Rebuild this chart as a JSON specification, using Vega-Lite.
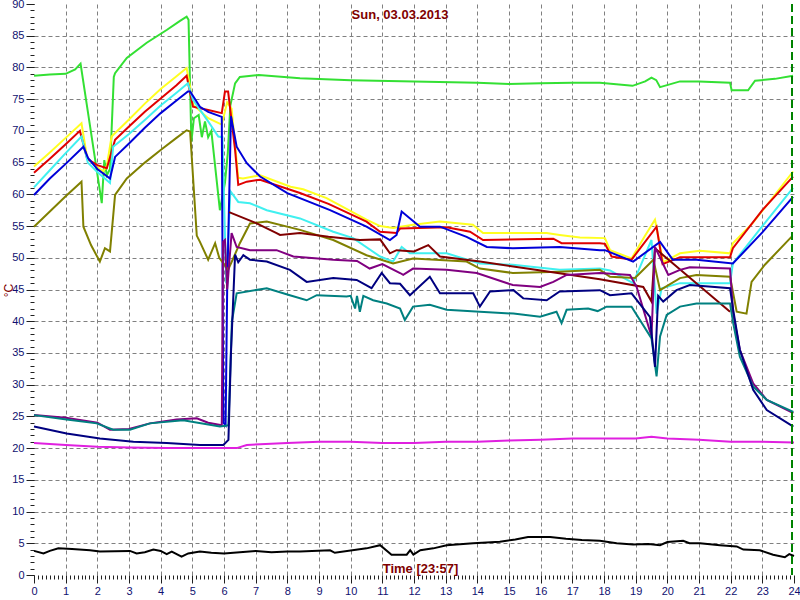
{
  "$schema": "https://vega.github.io/schema/vega-lite/v6.json",
  "width": 760,
  "height": 571,
  "autosize": {"type": "none"},
  "padding": {"left": 34, "top": 4, "right": 6, "bottom": 25},
  "background": "white",
  "config": {"view": {"stroke": null}, "font": "Liberation Sans"},
  "title": {"text": "Sun, 03.03.2013", "color": "#800000", "fontSize": 13, "fontWeight": "bold", "font": "Liberation Sans", "offset": -24, "dx": -14},
  "datasets": {
    "temps": [
      {"s":"green","t":0,"v":78.7},{"s":"green","t":0.5,"v":78.9},{"s":"green","t":1,"v":79.0},{"s":"green","t":1.3,"v":79.7},{"s":"green","t":1.47,"v":80.6},{"s":"green","t":2.14,"v":58.6},{"s":"green","t":2.22,"v":65.4},{"s":"green","t":2.3,"v":63},{"s":"green","t":2.4,"v":64},{"s":"green","t":2.52,"v":78.5},{"s":"green","t":2.56,"v":79.1},{"s":"green","t":2.93,"v":81.5},{"s":"green","t":3.56,"v":83.9},{"s":"green","t":4.19,"v":85.9},{"s":"green","t":4.6,"v":87.3},{"s":"green","t":4.82,"v":88},{"s":"green","t":4.88,"v":87.5},{"s":"green","t":4.97,"v":68.3},{"s":"green","t":5.05,"v":72},{"s":"green","t":5.2,"v":72.5},{"s":"green","t":5.3,"v":69},{"s":"green","t":5.4,"v":71.5},{"s":"green","t":5.5,"v":69},{"s":"green","t":5.6,"v":70},{"s":"green","t":5.87,"v":57.5},{"s":"green","t":6.03,"v":61.8},{"s":"green","t":6.12,"v":66.5},{"s":"green","t":6.2,"v":74},{"s":"green","t":6.35,"v":77.5},{"s":"green","t":6.5,"v":78.5},{"s":"green","t":7.1,"v":78.8},{"s":"green","t":8.4,"v":78.3},{"s":"green","t":10,"v":78},{"s":"green","t":12,"v":77.8},{"s":"green","t":14,"v":77.6},{"s":"green","t":15,"v":77.4},{"s":"green","t":16,"v":77.5},{"s":"green","t":17,"v":77.6},{"s":"green","t":17.87,"v":77.6},{"s":"green","t":18.9,"v":77.1},{"s":"green","t":19.3,"v":77.8},{"s":"green","t":19.5,"v":78.4},{"s":"green","t":19.65,"v":78},{"s":"green","t":19.77,"v":76.9},{"s":"green","t":20.4,"v":77.8},{"s":"green","t":21,"v":77.8},{"s":"green","t":21.98,"v":77.6},{"s":"green","t":22.03,"v":76.4},{"s":"green","t":22.55,"v":76.4},{"s":"green","t":22.77,"v":77.9},{"s":"green","t":23.4,"v":78.2},{"s":"green","t":23.97,"v":78.7},

      {"s":"yellow","t":0,"v":64.4},{"s":"yellow","t":0.5,"v":66.6},{"s":"yellow","t":1,"v":68.9},{"s":"yellow","t":1.5,"v":71.2},{"s":"yellow","t":1.68,"v":65.7},{"s":"yellow","t":2.0,"v":64.3},{"s":"yellow","t":2.18,"v":63.6},{"s":"yellow","t":2.3,"v":64.5},{"s":"yellow","t":2.45,"v":69.1},{"s":"yellow","t":3,"v":71.8},{"s":"yellow","t":3.5,"v":74.3},{"s":"yellow","t":4,"v":76.6},{"s":"yellow","t":4.5,"v":78.6},{"s":"yellow","t":4.82,"v":79.9},{"s":"yellow","t":5.03,"v":74.1},{"s":"yellow","t":5.5,"v":72},{"s":"yellow","t":5.93,"v":71},{"s":"yellow","t":6.1,"v":74.5},{"s":"yellow","t":6.24,"v":73.5},{"s":"yellow","t":6.45,"v":62.6},{"s":"yellow","t":6.6,"v":62.5},{"s":"yellow","t":7.14,"v":63},{"s":"yellow","t":8.1,"v":61.2},{"s":"yellow","t":8.5,"v":60.8},{"s":"yellow","t":9.24,"v":59.4},{"s":"yellow","t":10.5,"v":56},{"s":"yellow","t":10.93,"v":55},{"s":"yellow","t":11.34,"v":54.7},{"s":"yellow","t":11.97,"v":55.2},{"s":"yellow","t":12.82,"v":55.7},{"s":"yellow","t":13.86,"v":55.2},{"s":"yellow","t":14.18,"v":53.9},{"s":"yellow","t":16.19,"v":53.9},{"s":"yellow","t":16.6,"v":53.6},{"s":"yellow","t":17.24,"v":53.2},{"s":"yellow","t":18.03,"v":53.1},{"s":"yellow","t":18.19,"v":51.2},{"s":"yellow","t":18.87,"v":49.9},{"s":"yellow","t":19.3,"v":53.5},{"s":"yellow","t":19.61,"v":56},{"s":"yellow","t":19.87,"v":49.3},{"s":"yellow","t":20.4,"v":50.7},{"s":"yellow","t":21.03,"v":51.1},{"s":"yellow","t":21.98,"v":50.7},{"s":"yellow","t":22.07,"v":52.3},{"s":"yellow","t":22.7,"v":55.5},{"s":"yellow","t":23.3,"v":59.3},{"s":"yellow","t":23.97,"v":63.6},

      {"s":"red","t":0,"v":63.4},{"s":"red","t":0.5,"v":65.6},{"s":"red","t":1,"v":67.9},{"s":"red","t":1.45,"v":70},{"s":"red","t":1.68,"v":65.6},{"s":"red","t":2.0,"v":64.6},{"s":"red","t":2.3,"v":64.1},{"s":"red","t":2.56,"v":68.6},{"s":"red","t":3,"v":70.7},{"s":"red","t":3.5,"v":73},{"s":"red","t":4,"v":75.1},{"s":"red","t":4.5,"v":77.2},{"s":"red","t":4.82,"v":78.7},{"s":"red","t":5.02,"v":73.8},{"s":"red","t":5.5,"v":73.3},{"s":"red","t":5.93,"v":72.8},{"s":"red","t":6.03,"v":76.2},{"s":"red","t":6.13,"v":76.2},{"s":"red","t":6.35,"v":67},{"s":"red","t":6.45,"v":61.5},{"s":"red","t":6.72,"v":62},{"s":"red","t":7.14,"v":62.3},{"s":"red","t":8.4,"v":60.2},{"s":"red","t":9.3,"v":58.5},{"s":"red","t":10.5,"v":55.7},{"s":"red","t":10.93,"v":54.1},{"s":"red","t":11.45,"v":53.9},{"s":"red","t":11.56,"v":54.6},{"s":"red","t":13.03,"v":54.8},{"s":"red","t":13.77,"v":54.1},{"s":"red","t":14.18,"v":52.8},{"s":"red","t":16.4,"v":53},{"s":"red","t":16.66,"v":52.3},{"s":"red","t":17.87,"v":52.3},{"s":"red","t":18.03,"v":52.2},{"s":"red","t":18.24,"v":50.2},{"s":"red","t":18.87,"v":49.7},{"s":"red","t":19.66,"v":54.9},{"s":"red","t":19.85,"v":49},{"s":"red","t":20.4,"v":50.1},{"s":"red","t":21.98,"v":50.1},{"s":"red","t":22.07,"v":51.5},{"s":"red","t":23,"v":57.5},{"s":"red","t":23.97,"v":62.8},

      {"s":"cyan","t":0,"v":61.1},{"s":"cyan","t":0.5,"v":63.8},{"s":"cyan","t":1,"v":66.5},{"s":"cyan","t":1.5,"v":69.1},{"s":"cyan","t":1.7,"v":65},{"s":"cyan","t":2.0,"v":63.5},{"s":"cyan","t":2.4,"v":61.8},{"s":"cyan","t":2.5,"v":67.5},{"s":"cyan","t":3,"v":69.5},{"s":"cyan","t":3.5,"v":71.7},{"s":"cyan","t":4,"v":74},{"s":"cyan","t":4.5,"v":76},{"s":"cyan","t":4.86,"v":77.5},{"s":"cyan","t":5.02,"v":74.9},{"s":"cyan","t":5.5,"v":71.5},{"s":"cyan","t":5.82,"v":69.1},{"s":"cyan","t":5.95,"v":69},{"s":"cyan","t":6.07,"v":46},{"s":"cyan","t":6.2,"v":60.5},{"s":"cyan","t":6.45,"v":58.8},{"s":"cyan","t":6.82,"v":58.6},{"s":"cyan","t":7.35,"v":57.5},{"s":"cyan","t":8.4,"v":56.2},{"s":"cyan","t":9.45,"v":54.1},{"s":"cyan","t":10.08,"v":53.1},{"s":"cyan","t":10.93,"v":50.2},{"s":"cyan","t":11.34,"v":49.4},{"s":"cyan","t":11.61,"v":51.7},{"s":"cyan","t":11.87,"v":50.7},{"s":"cyan","t":13.03,"v":50.7},{"s":"cyan","t":14.08,"v":49.1},{"s":"cyan","t":15.12,"v":48.9},{"s":"cyan","t":16.6,"v":48.1},{"s":"cyan","t":17.87,"v":48.3},{"s":"cyan","t":18.19,"v":48},{"s":"cyan","t":18.92,"v":46},{"s":"cyan","t":19.5,"v":52.8},{"s":"cyan","t":19.66,"v":41.2},{"s":"cyan","t":19.82,"v":45.2},{"s":"cyan","t":20.4,"v":46},{"s":"cyan","t":21.98,"v":46},{"s":"cyan","t":22.07,"v":49.1},{"s":"cyan","t":23,"v":55},{"s":"cyan","t":23.97,"v":61},

      {"s":"blue","t":0,"v":59.9},{"s":"blue","t":0.5,"v":62.5},{"s":"blue","t":1,"v":64.8},{"s":"blue","t":1.56,"v":67.5},{"s":"blue","t":1.71,"v":65.7},{"s":"blue","t":2.0,"v":64},{"s":"blue","t":2.4,"v":62.5},{"s":"blue","t":2.56,"v":65.9},{"s":"blue","t":3,"v":68},{"s":"blue","t":3.5,"v":70.5},{"s":"blue","t":4,"v":72.8},{"s":"blue","t":4.5,"v":74.8},{"s":"blue","t":4.86,"v":76.2},{"s":"blue","t":4.93,"v":76.2},{"s":"blue","t":5.24,"v":73.8},{"s":"blue","t":5.5,"v":73},{"s":"blue","t":5.93,"v":72.2},{"s":"blue","t":5.98,"v":24},{"s":"blue","t":6.05,"v":23.6},{"s":"blue","t":6.1,"v":45},{"s":"blue","t":6.22,"v":72.3},{"s":"blue","t":6.4,"v":67.5},{"s":"blue","t":6.72,"v":64.9},{"s":"blue","t":7.14,"v":62.8},{"s":"blue","t":8.0,"v":60.2},{"s":"blue","t":9.35,"v":57.5},{"s":"blue","t":10.5,"v":54.9},{"s":"blue","t":11.24,"v":52.8},{"s":"blue","t":11.45,"v":53.6},{"s":"blue","t":11.61,"v":57.3},{"s":"blue","t":12.19,"v":54.9},{"s":"blue","t":12.82,"v":54.9},{"s":"blue","t":13.66,"v":53.3},{"s":"blue","t":14.3,"v":51.7},{"s":"blue","t":15.12,"v":51.5},{"s":"blue","t":16.6,"v":51.7},{"s":"blue","t":17.87,"v":51.2},{"s":"blue","t":18.03,"v":51.2},{"s":"blue","t":18.92,"v":49.4},{"s":"blue","t":19.77,"v":52.5},{"s":"blue","t":20.17,"v":49.7},{"s":"blue","t":20.92,"v":49.7},{"s":"blue","t":22.07,"v":49.1},{"s":"blue","t":23,"v":54},{"s":"blue","t":23.97,"v":59.6},

      {"s":"olive","t":0,"v":54.9},{"s":"olive","t":0.5,"v":57.3},{"s":"olive","t":1,"v":59.7},{"s":"olive","t":1.5,"v":62},{"s":"olive","t":1.56,"v":54.9},{"s":"olive","t":1.8,"v":52},{"s":"olive","t":2.08,"v":49.4},{"s":"olive","t":2.24,"v":51.5},{"s":"olive","t":2.4,"v":51},{"s":"olive","t":2.56,"v":59.9},{"s":"olive","t":2.93,"v":62.5},{"s":"olive","t":3.5,"v":65},{"s":"olive","t":4,"v":67},{"s":"olive","t":4.5,"v":68.9},{"s":"olive","t":4.82,"v":70.1},{"s":"olive","t":4.93,"v":69.9},{"s":"olive","t":5.14,"v":53.5},{"s":"olive","t":5.24,"v":52.5},{"s":"olive","t":5.5,"v":49.7},{"s":"olive","t":5.72,"v":52.3},{"s":"olive","t":5.85,"v":50},{"s":"olive","t":6.0,"v":49},{"s":"olive","t":6.13,"v":48.1},{"s":"olive","t":6.3,"v":50},{"s":"olive","t":6.5,"v":52.3},{"s":"olive","t":6.82,"v":55.4},{"s":"olive","t":7.35,"v":55.7},{"s":"olive","t":8.4,"v":54.4},{"s":"olive","t":9.45,"v":52.8},{"s":"olive","t":10.5,"v":50.4},{"s":"olive","t":11.34,"v":49.1},{"s":"olive","t":11.97,"v":49.9},{"s":"olive","t":13.66,"v":49.4},{"s":"olive","t":14.08,"v":48.3},{"s":"olive","t":15.12,"v":47.6},{"s":"olive","t":16.6,"v":47.8},{"s":"olive","t":17.87,"v":48.1},{"s":"olive","t":18.19,"v":47},{"s":"olive","t":18.98,"v":46.8},{"s":"olive","t":19.56,"v":49.7},{"s":"olive","t":19.77,"v":44.9},{"s":"olive","t":20.4,"v":46.8},{"s":"olive","t":20.92,"v":47.3},{"s":"olive","t":21.98,"v":47},{"s":"olive","t":22.19,"v":41.5},{"s":"olive","t":22.5,"v":41.2},{"s":"olive","t":22.66,"v":46.2},{"s":"olive","t":23.08,"v":48.9},{"s":"olive","t":23.92,"v":53.3},

      {"s":"maroon","t":6.16,"v":57.2},{"s":"maroon","t":7.0,"v":55.5},{"s":"maroon","t":7.66,"v":53.9},{"s":"maroon","t":7.77,"v":53.6},{"s":"maroon","t":8.4,"v":53.9},{"s":"maroon","t":9.3,"v":53.3},{"s":"maroon","t":10.29,"v":52.8},{"s":"maroon","t":10.93,"v":52.9},{"s":"maroon","t":11.24,"v":50.7},{"s":"maroon","t":11.45,"v":51.2},{"s":"maroon","t":12.0,"v":51},{"s":"maroon","t":12.45,"v":52},{"s":"maroon","t":12.82,"v":50.2},{"s":"maroon","t":14.08,"v":49.4},{"s":"maroon","t":16,"v":48},{"s":"maroon","t":17.87,"v":46.6},{"s":"maroon","t":19.24,"v":45.4},{"s":"maroon","t":19.5,"v":43.1},{"s":"maroon","t":19.61,"v":51.5},{"s":"maroon","t":21.98,"v":41.5},

      {"s":"purple","t":0,"v":25.2},{"s":"purple","t":1,"v":24.8},{"s":"purple","t":2,"v":24},{"s":"purple","t":2.4,"v":22.9},{"s":"purple","t":3,"v":23},{"s":"purple","t":3.66,"v":23.9},{"s":"purple","t":4.5,"v":24.5},{"s":"purple","t":5.14,"v":24.7},{"s":"purple","t":5.5,"v":24},{"s":"purple","t":5.93,"v":23.6},{"s":"purple","t":5.97,"v":52.5},{"s":"purple","t":6.03,"v":52.8},{"s":"purple","t":6.1,"v":45},{"s":"purple","t":6.24,"v":53.9},{"s":"purple","t":6.4,"v":51.7},{"s":"purple","t":6.82,"v":51.2},{"s":"purple","t":7.66,"v":51.2},{"s":"purple","t":8.19,"v":50.2},{"s":"purple","t":9.45,"v":49.7},{"s":"purple","t":10.2,"v":49.5},{"s":"purple","t":10.6,"v":48.3},{"s":"purple","t":11.0,"v":49},{"s":"purple","t":11.56,"v":47.6},{"s":"purple","t":11.66,"v":47.3},{"s":"purple","t":11.97,"v":48.3},{"s":"purple","t":13.03,"v":48.1},{"s":"purple","t":13.98,"v":47.6},{"s":"purple","t":15.12,"v":45.7},{"s":"purple","t":15.98,"v":45.4},{"s":"purple","t":16.4,"v":46.2},{"s":"purple","t":16.82,"v":47.3},{"s":"purple","t":17.87,"v":47.6},{"s":"purple","t":18.82,"v":47.3},{"s":"purple","t":19.03,"v":45.4},{"s":"purple","t":19.5,"v":37.6},{"s":"purple","t":19.61,"v":51.7},{"s":"purple","t":20.03,"v":47.3},{"s":"purple","t":20.4,"v":48.1},{"s":"purple","t":20.71,"v":48.5},{"s":"purple","t":21.98,"v":48.3},{"s":"purple","t":22.08,"v":41.2},{"s":"purple","t":22.29,"v":35.5},{"s":"purple","t":22.71,"v":30.2},{"s":"purple","t":23.14,"v":27.6},{"s":"purple","t":23.98,"v":25.5},

      {"s":"teal","t":0,"v":25.2},{"s":"teal","t":1.03,"v":24.5},{"s":"teal","t":1.98,"v":23.9},{"s":"teal","t":2.5,"v":22.9},{"s":"teal","t":3.03,"v":22.9},{"s":"teal","t":3.66,"v":23.9},{"s":"teal","t":4.71,"v":24.4},{"s":"teal","t":5.87,"v":23.4},{"s":"teal","t":6.14,"v":23.6},{"s":"teal","t":6.25,"v":40},{"s":"teal","t":6.4,"v":44.4},{"s":"teal","t":7.35,"v":45.2},{"s":"teal","t":8.08,"v":44.1},{"s":"teal","t":8.61,"v":43.3},{"s":"teal","t":8.93,"v":44.1},{"s":"teal","t":9.87,"v":43.9},{"s":"teal","t":10.0,"v":44},{"s":"teal","t":10.14,"v":42},{"s":"teal","t":10.2,"v":44},{"s":"teal","t":10.29,"v":41.5},{"s":"teal","t":10.4,"v":44},{"s":"teal","t":10.71,"v":43.3},{"s":"teal","t":11.14,"v":42.8},{"s":"teal","t":11.56,"v":42},{"s":"teal","t":11.71,"v":40.2},{"s":"teal","t":11.97,"v":42.3},{"s":"teal","t":12.5,"v":42.6},{"s":"teal","t":13.03,"v":41.8},{"s":"teal","t":14.08,"v":41.5},{"s":"teal","t":15.14,"v":41.2},{"s":"teal","t":15.98,"v":40.7},{"s":"teal","t":16.5,"v":41.5},{"s":"teal","t":16.66,"v":39.7},{"s":"teal","t":16.82,"v":41.8},{"s":"teal","t":17.5,"v":42},{"s":"teal","t":17.8,"v":41.6},{"s":"teal","t":18.08,"v":42.3},{"s":"teal","t":18.87,"v":42.3},{"s":"teal","t":19.5,"v":37.3},{"s":"teal","t":19.66,"v":31.3},{"s":"teal","t":19.77,"v":37.6},{"s":"teal","t":19.98,"v":41},{"s":"teal","t":20.4,"v":42.3},{"s":"teal","t":20.92,"v":42.8},{"s":"teal","t":21.98,"v":42.8},{"s":"teal","t":22.08,"v":39.7},{"s":"teal","t":22.29,"v":34.4},{"s":"teal","t":22.71,"v":29.7},{"s":"teal","t":23.14,"v":27.6},{"s":"teal","t":23.98,"v":25.7},

      {"s":"navy","t":0,"v":23.4},{"s":"navy","t":1.03,"v":22.3},{"s":"navy","t":2.08,"v":21.5},{"s":"navy","t":3.14,"v":21},{"s":"navy","t":4.19,"v":20.8},{"s":"navy","t":5.24,"v":20.5},{"s":"navy","t":5.98,"v":20.5},{"s":"navy","t":6.14,"v":21.3},{"s":"navy","t":6.22,"v":35},{"s":"navy","t":6.35,"v":50.5},{"s":"navy","t":6.45,"v":49.3},{"s":"navy","t":6.61,"v":50.4},{"s":"navy","t":6.82,"v":49.7},{"s":"navy","t":7.35,"v":49.4},{"s":"navy","t":8.08,"v":48.1},{"s":"navy","t":8.61,"v":46.2},{"s":"navy","t":9.45,"v":46.8},{"s":"navy","t":10.19,"v":46.5},{"s":"navy","t":10.66,"v":45.2},{"s":"navy","t":10.98,"v":47.6},{"s":"navy","t":11.24,"v":46},{"s":"navy","t":11.56,"v":45.9},{"s":"navy","t":11.87,"v":44.1},{"s":"navy","t":12.5,"v":47},{"s":"navy","t":12.82,"v":44.4},{"s":"navy","t":13.87,"v":44.4},{"s":"navy","t":14.08,"v":42.3},{"s":"navy","t":14.4,"v":44.7},{"s":"navy","t":15.14,"v":44.9},{"s":"navy","t":15.45,"v":43.6},{"s":"navy","t":16.19,"v":43.3},{"s":"navy","t":16.6,"v":44.7},{"s":"navy","t":17.87,"v":44.9},{"s":"navy","t":18.19,"v":44.1},{"s":"navy","t":18.87,"v":44.4},{"s":"navy","t":19.45,"v":40.7},{"s":"navy","t":19.61,"v":32.8},{"s":"navy","t":19.71,"v":44},{"s":"navy","t":19.87,"v":43.1},{"s":"navy","t":20.29,"v":44.9},{"s":"navy","t":20.71,"v":45.7},{"s":"navy","t":21.98,"v":45.2},{"s":"navy","t":22.08,"v":41.8},{"s":"navy","t":22.29,"v":35.5},{"s":"navy","t":22.71,"v":29.2},{"s":"navy","t":23.14,"v":26},{"s":"navy","t":23.98,"v":23.4},

      {"s":"magenta","t":0,"v":20.8},{"s":"magenta","t":1,"v":20.5},{"s":"magenta","t":2,"v":20.2},{"s":"magenta","t":3,"v":20.1},{"s":"magenta","t":4.19,"v":20},{"s":"magenta","t":5,"v":20},{"s":"magenta","t":6,"v":20},{"s":"magenta","t":6.4,"v":20},{"s":"magenta","t":6.72,"v":20.5},{"s":"magenta","t":7.14,"v":20.6},{"s":"magenta","t":8,"v":20.8},{"s":"magenta","t":9,"v":21},{"s":"magenta","t":10,"v":21},{"s":"magenta","t":11,"v":20.8},{"s":"magenta","t":12,"v":20.8},{"s":"magenta","t":13,"v":21},{"s":"magenta","t":14,"v":21},{"s":"magenta","t":15,"v":21.2},{"s":"magenta","t":16,"v":21.3},{"s":"magenta","t":17,"v":21.5},{"s":"magenta","t":18,"v":21.5},{"s":"magenta","t":19,"v":21.5},{"s":"magenta","t":19.5,"v":21.8},{"s":"magenta","t":20,"v":21.5},{"s":"magenta","t":21,"v":21.3},{"s":"magenta","t":22,"v":21},{"s":"magenta","t":23,"v":21},{"s":"magenta","t":24,"v":20.9},

      {"s":"black","t":0,"v":3.8},{"s":"black","t":0.3,"v":3.4},{"s":"black","t":0.5,"v":3.8},{"s":"black","t":0.77,"v":4.2},{"s":"black","t":1.2,"v":4.1},{"s":"black","t":1.77,"v":3.9},{"s":"black","t":2.08,"v":3.7},{"s":"black","t":3.03,"v":3.8},{"s":"black","t":3.24,"v":3.4},{"s":"black","t":3.5,"v":3.6},{"s":"black","t":3.77,"v":4.0},{"s":"black","t":4.0,"v":3.8},{"s":"black","t":4.19,"v":3.3},{"s":"black","t":4.35,"v":3.7},{"s":"black","t":4.66,"v":2.9},{"s":"black","t":4.87,"v":3.4},{"s":"black","t":5.24,"v":3.7},{"s":"black","t":5.6,"v":3.5},{"s":"black","t":6,"v":3.4},{"s":"black","t":6.5,"v":3.6},{"s":"black","t":7,"v":3.8},{"s":"black","t":7.5,"v":3.6},{"s":"black","t":8,"v":3.7},{"s":"black","t":8.4,"v":3.7},{"s":"black","t":9.35,"v":3.9},{"s":"black","t":9.5,"v":3.5},{"s":"black","t":10.5,"v":4.2},{"s":"black","t":10.93,"v":4.7},{"s":"black","t":11.29,"v":3.2},{"s":"black","t":11.77,"v":3.2},{"s":"black","t":11.88,"v":3.9},{"s":"black","t":11.98,"v":3.2},{"s":"black","t":12.2,"v":3.9},{"s":"black","t":12.61,"v":4.2},{"s":"black","t":13.03,"v":4.7},{"s":"black","t":13.87,"v":5.0},{"s":"black","t":14.71,"v":5.25},{"s":"black","t":15.2,"v":5.6},{"s":"black","t":15.6,"v":6},{"s":"black","t":16.3,"v":6},{"s":"black","t":16.8,"v":5.7},{"s":"black","t":17.3,"v":5.5},{"s":"black","t":17.87,"v":5.4},{"s":"black","t":18.4,"v":5.0},{"s":"black","t":18.92,"v":4.8},{"s":"black","t":19.4,"v":4.9},{"s":"black","t":19.77,"v":4.7},{"s":"black","t":20.0,"v":5.2},{"s":"black","t":20.5,"v":5.4},{"s":"black","t":20.7,"v":5.0},{"s":"black","t":21.03,"v":5.0},{"s":"black","t":21.66,"v":4.7},{"s":"black","t":22.19,"v":4.5},{"s":"black","t":22.4,"v":4.0},{"s":"black","t":22.92,"v":3.9},{"s":"black","t":23.34,"v":3.2},{"s":"black","t":23.71,"v":2.8},{"s":"black","t":23.85,"v":3.3},{"s":"black","t":24,"v":3.0}
    ]
  },
  "data": {"name": "temps"},
  "resolve": {"axis": {"x": "independent", "y": "independent"}},
  "layer": [
    {
      "mark": {"type": "line", "opacity": 0},
      "encoding": {
        "x": {"field": "t", "type": "quantitative", "scale": {"domain": [0, 24], "nice": false, "zero": false},
          "axis": {"orient": "bottom", "values": [0.125,0.25,0.375,0.5,0.625,0.75,0.875,1.125,1.25,1.375,1.5,1.625,1.75,1.875,2.125,2.25,2.375,2.5,2.625,2.75,2.875,3.125,3.25,3.375,3.5,3.625,3.75,3.875,4.125,4.25,4.375,4.5,4.625,4.75,4.875,5.125,5.25,5.375,5.5,5.625,5.75,5.875,6.125,6.25,6.375,6.5,6.625,6.75,6.875,7.125,7.25,7.375,7.5,7.625,7.75,7.875,8.125,8.25,8.375,8.5,8.625,8.75,8.875,9.125,9.25,9.375,9.5,9.625,9.75,9.875,10.125,10.25,10.375,10.5,10.625,10.75,10.875,11.125,11.25,11.375,11.5,11.625,11.75,11.875,12.125,12.25,12.375,12.5,12.625,12.75,12.875,13.125,13.25,13.375,13.5,13.625,13.75,13.875,14.125,14.25,14.375,14.5,14.625,14.75,14.875,15.125,15.25,15.375,15.5,15.625,15.75,15.875,16.125,16.25,16.375,16.5,16.625,16.75,16.875,17.125,17.25,17.375,17.5,17.625,17.75,17.875,18.125,18.25,18.375,18.5,18.625,18.75,18.875,19.125,19.25,19.375,19.5,19.625,19.75,19.875,20.125,20.25,20.375,20.5,20.625,20.75,20.875,21.125,21.25,21.375,21.5,21.625,21.75,21.875,22.125,22.25,22.375,22.5,22.625,22.75,22.875,23.125,23.25,23.375,23.5,23.625,23.75,23.875],
            "labels": false, "grid": false, "domain": false, "title": null, "tickSize": 4, "tickColor": "#202020", "tickWidth": 1}},
        "y": {"field": "v", "type": "quantitative", "scale": {"domain": [0, 90], "nice": false, "zero": false},
          "axis": {"orient": "left", "values": [0,1,2,3,4,5,6,7,8,9,10,11,12,13,14,15,16,17,18,19,20,21,22,23,24,25,26,27,28,29,30,31,32,33,34,35,36,37,38,39,40,41,42,43,44,45,46,47,48,49,50,51,52,53,54,55,56,57,58,59,60,61,62,63,64,65,66,67,68,69,70,71,72,73,74,75,76,77,78,79,80,81,82,83,84,85,86,87,88,89,90],
            "labels": false, "grid": false, "domain": false, "title": null, "tickSize": 4, "tickColor": "#202020", "tickWidth": 1}},
        "detail": {"field": "s"}
      }
    },
    {
      "mark": {"type": "line", "strokeWidth": 2},
      "encoding": {
        "x": {"field": "t", "type": "quantitative", "scale": {"domain": [0, 24], "nice": false, "zero": false},
          "axis": {"orient": "bottom", "values": [0,1,2,3,4,5,6,7,8,9,10,11,12,13,14,15,16,17,18,19,20,21,22,23,24],
            "domain": false, "tickSize": 8, "tickColor": "#202020", "tickWidth": 1,
            "labelColor": "#101070", "labelFont": "Liberation Sans", "labelFontSize": 11, "labelPadding": 2, "labelFlush": false,
            "grid": true, "gridColor": "#808080", "gridDash": [4, 3], "gridWidth": 1,
            "gridOpacity": {"condition": {"test": "datum.value == 0 || datum.value == 24", "value": 0}, "value": 1},
            "title": "Time [23:57]", "titleColor": "#800000", "titleFont": "Liberation Sans", "titleFontSize": 13, "titleFontWeight": "bold",
            "titleX": 386, "titleY": -7, "titleBaseline": "middle", "titleAlign": "center"}},
        "y": {"field": "v", "type": "quantitative", "scale": {"domain": [0, 90], "nice": false, "zero": false},
          "axis": {"orient": "left", "values": [0,5,10,15,20,25,30,35,40,45,50,55,60,65,70,75,80,85,90],
            "domain": false, "tickSize": 8, "tickColor": "#202020", "tickWidth": 1,
            "labelColor": "#101070", "labelFont": "Liberation Sans", "labelFontSize": 11, "labelPadding": 2, "labelFlush": false,
            "grid": true, "gridColor": "#808080", "gridDash": [4, 3], "gridWidth": 1,
            "gridOpacity": {"condition": {"test": "datum.value == 0 || datum.value == 90", "value": 0}, "value": 1},
            "title": "°C", "titleColor": "#800000", "titleFont": "Liberation Sans", "titleFontSize": 12, "titleFontWeight": "normal",
            "titleX": -26, "titleY": 286, "titleAngle": -90, "titleBaseline": "middle", "titleAlign": "center"}},
        "color": {"field": "s", "type": "nominal", "legend": null,
          "scale": {"domain": ["green","yellow","red","cyan","blue","olive","maroon","purple","teal","navy","magenta","black"],
            "range": ["#33e033","#ffff20","#e00000","#40f0f0","#0000d8","#808000","#800000","#800080","#008080","#000080","#e020e0","#000000"]}}
      }
    },
    {
      "mark": {"type": "rule", "color": "#008000", "strokeWidth": 1, "strokeDash": [8, 4]},
      "encoding": {"x": {"datum": 23.95, "type": "quantitative", "axis": null}}
    }
  ]
}
